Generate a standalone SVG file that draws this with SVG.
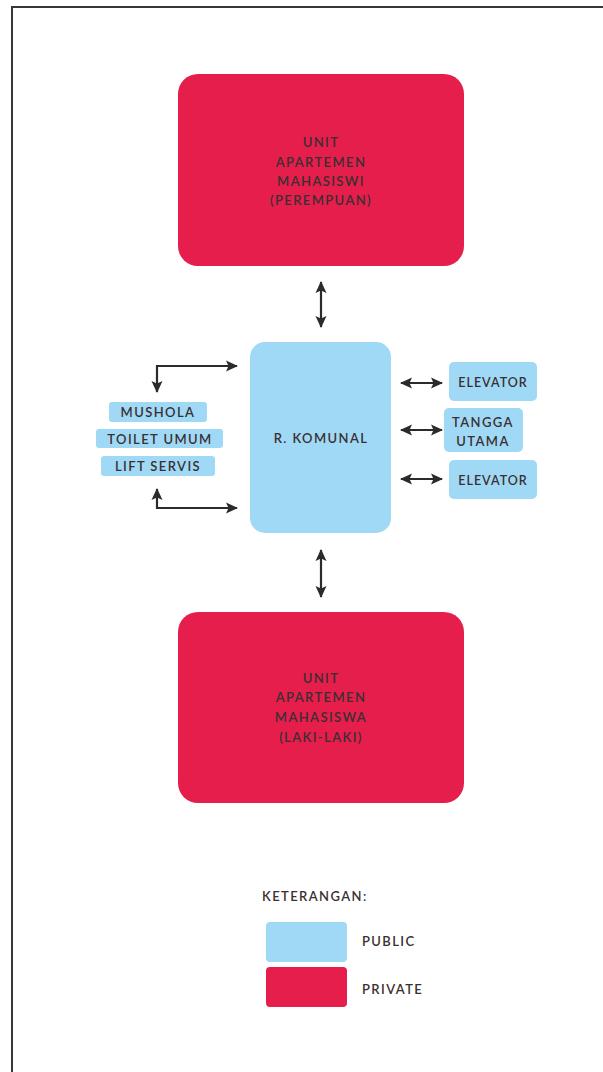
<svg xmlns="http://www.w3.org/2000/svg" width="603" height="1072" viewBox="0 0 603 1072">
<defs>
<marker id="ah" viewBox="0 0 12 12" refX="11" refY="6" markerWidth="12" markerHeight="12" markerUnits="userSpaceOnUse" orient="auto-start-reverse">
<path d="M0,0.5 L12,6 L0,11.5 L2.5,6 Z" fill="#2e2a2b"/>
</marker>
<style>
.red{fill:#e51e4c}
.blue{fill:#a0d9f5}
.t{font-family:Lato,"Open Sans",sans-serif;font-size:13px;font-weight:600;fill:#3a2f32;letter-spacing:1.4px;text-anchor:middle;dominant-baseline:central}
.tl{font-family:Lato,"Open Sans",sans-serif;font-size:13px;font-weight:600;fill:#3a2f32;letter-spacing:1.4px;dominant-baseline:central}
.c{stroke:#2e2a2b;stroke-width:2.2;fill:none}
</style>
</defs>
<rect width="603" height="1072" fill="#ffffff"/>
<path d="M12,1072 L12,7 L603,7" fill="none" stroke="#3a3637" stroke-width="2"/>

<g id="connectors">
<line class="c" x1="321" y1="282" x2="321" y2="327" marker-start="url(#ah)" marker-end="url(#ah)"/>
<line class="c" x1="321" y1="550" x2="321" y2="597" marker-start="url(#ah)" marker-end="url(#ah)"/>
<polyline class="c" points="157,392 157,366 237,366" marker-start="url(#ah)" marker-end="url(#ah)"/>
<polyline class="c" points="157,489 157,508 237,508" marker-start="url(#ah)" marker-end="url(#ah)"/>
<line class="c" x1="401" y1="383" x2="442" y2="383" marker-start="url(#ah)" marker-end="url(#ah)"/>
<line class="c" x1="401" y1="430" x2="442" y2="430" marker-start="url(#ah)" marker-end="url(#ah)"/>
<line class="c" x1="401" y1="479" x2="442" y2="479" marker-start="url(#ah)" marker-end="url(#ah)"/>
</g>

<g id="unit-perempuan">
<rect class="red" x="178" y="74" width="286" height="192" rx="20"/>
<text class="t" x="321" y="142">UNIT</text>
<text class="t" x="321" y="162">APARTEMEN</text>
<text class="t" x="321" y="181">MAHASISWI</text>
<text class="t" x="321" y="200">(PEREMPUAN)</text>
</g>

<g id="r-komunal">
<rect class="blue" x="250" y="342" width="141" height="191" rx="15"/>
<text class="t" x="321" y="438">R. KOMUNAL</text>
</g>

<g id="mushola">
<rect class="blue" x="109" y="402" width="98" height="20" rx="3"/>
<text class="t" x="158" y="412">MUSHOLA</text>
</g>
<g id="toilet-umum">
<rect class="blue" x="96" y="429" width="127" height="19" rx="3"/>
<text class="t" x="160" y="438.5">TOILET UMUM</text>
</g>
<g id="lift-servis">
<rect class="blue" x="101" y="456" width="114" height="20" rx="3"/>
<text class="t" x="158" y="466">LIFT SERVIS</text>
</g>

<g id="elevator-1">
<rect class="blue" x="449" y="362" width="88" height="39" rx="5"/>
<text class="t" x="493" y="382" style="font-size:12.5px;letter-spacing:1px">ELEVATOR</text>
</g>
<g id="tangga-utama">
<rect class="blue" x="444" y="408" width="79" height="44" rx="5"/>
<text class="t" x="483" y="422">TANGGA</text>
<text class="t" x="483" y="441">UTAMA</text>
</g>
<g id="elevator-2">
<rect class="blue" x="449" y="460" width="88" height="39" rx="5"/>
<text class="t" x="493" y="480" style="font-size:12.5px;letter-spacing:1px">ELEVATOR</text>
</g>

<g id="unit-laki-laki">
<rect class="red" x="178" y="612" width="286" height="191" rx="20"/>
<text class="t" x="321" y="678">UNIT</text>
<text class="t" x="321" y="697">APARTEMEN</text>
<text class="t" x="321" y="717">MAHASISWA</text>
<text class="t" x="321" y="737">(LAKI-LAKI)</text>
</g>

<g id="legend">
<text class="tl" x="262" y="896">KETERANGAN:</text>
<rect class="blue" x="266" y="922" width="81" height="40" rx="4"/>
<text class="tl" x="362" y="941">PUBLIC</text>
<rect class="red" x="266" y="967" width="81" height="40" rx="4"/>
<text class="tl" x="362" y="989">PRIVATE</text>
</g>
</svg>
